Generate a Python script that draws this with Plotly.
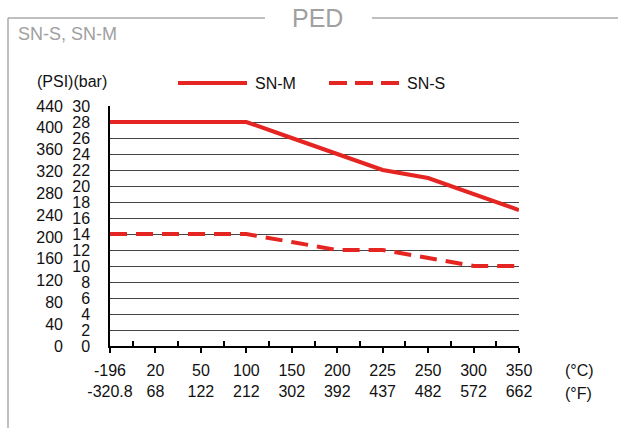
import plotly.graph_objects as go

# ---- data ----
temps_c = ["-196", "20", "50", "100", "150", "200", "225", "250", "300", "350"]
temps_f = ["-320.8", "68", "122", "212", "302", "392", "437", "482", "572", "662"]
sn_m_bar = [28, 28, 28, 28, 26, 24, 22, 21, 19, 17]
sn_s_bar = [14, 14, 14, 14, 13, 12, 12, 11, 10, 10]
bar_ticks = list(range(0, 31, 2))
psi_ticks = list(range(0, 441, 40))

RED = "#e52521"
GRAY = "#aaaaaa"
FONT = "Liberation Sans, Arial, sans-serif"
TXT = "#111111"
FS = 16

W, H = 618, 428
def px(x):
    return x / W
def py(y):
    return 1 - y / H

fig = go.Figure()
fig.add_trace(go.Scatter(x=temps_c, y=sn_m_bar, mode="lines", name="SN-M",
                         line=dict(color=RED, width=4), showlegend=False))
fig.add_trace(go.Scatter(x=temps_c, y=sn_s_bar, mode="lines", name="SN-S",
                         line=dict(color=RED, width=4, dash="17px,9px"), showlegend=False))
# helper traces to display overlay axes
fig.add_trace(go.Scatter(x=[None], y=[None], xaxis="x2", yaxis="y", showlegend=False, hoverinfo="skip"))
fig.add_trace(go.Scatter(x=[None], y=[None], xaxis="x", yaxis="y2", showlegend=False, hoverinfo="skip"))

xdom = [px(110), px(519)]
ydom = [py(346), py(106)]

fig.update_layout(
    width=W, height=H, autosize=False,
    margin=dict(l=0, r=0, t=0, b=0, pad=0),
    paper_bgcolor="white", plot_bgcolor="white",
    showlegend=False,
    font=dict(family=FONT, size=FS, color=TXT),
    xaxis=dict(
        domain=xdom, type="category", range=[0, 9], automargin=False,
        categoryorder="array", categoryarray=temps_c,
        tickvals=temps_c,
        ticktext=[f"{c}<br>{f}" for c, f in zip(temps_c, temps_f)],
        ticks="outside", ticklen=5, tickwidth=1.5, tickcolor="black",
        showline=True, linecolor="black", linewidth=2,
        showgrid=False, zeroline=False, anchor="y",
        tickfont=dict(family=FONT, size=FS, color=TXT),
        ticklabelstandoff=4,
    ),
    xaxis2=dict(
        domain=xdom, overlaying="x", anchor="y", range=[0, 9], type="linear",
        automargin=False,
        tickvals=[i + 0.5 for i in range(9)] + [9],
        ticks="inside", ticklen=5, tickwidth=1.5, tickcolor="black",
        showticklabels=False, showgrid=False, showline=False, zeroline=False,
    ),
    yaxis=dict(
        domain=ydom, range=[0, 30], tickvals=bar_ticks, automargin=False,
        showgrid=True, gridcolor="#444", gridwidth=1,
        showline=True, linecolor="black", linewidth=1.5,
        ticks="", zeroline=False, anchor="x",
        tickfont=dict(family=FONT, size=FS, color=TXT),
        ticklabelstandoff=15,
    ),
    yaxis2=dict(
        domain=ydom, overlaying="y", anchor="free", position=px(66), side="left",
        range=[0, 440], tickvals=psi_ticks, automargin=False,
        showgrid=False, showline=False, ticks="", zeroline=False,
        tickfont=dict(family=FONT, size=FS, color=TXT),
        ticklabelstandoff=3,
    ),
)

shapes = [
    # frame
    dict(type="line", xref="paper", yref="paper", x0=px(8), x1=px(8), y0=py(18), y1=py(428),
         line=dict(color=GRAY, width=1.5)),
    dict(type="line", xref="paper", yref="paper", x0=px(8), x1=px(265), y0=py(18), y1=py(18),
         line=dict(color=GRAY, width=1.5)),
    dict(type="line", xref="paper", yref="paper", x0=px(372), x1=px(618), y0=py(18), y1=py(18),
         line=dict(color=GRAY, width=1.5)),
    # legend symbols
    dict(type="line", xref="paper", yref="paper", x0=px(178), x1=px(247), y0=py(83), y1=py(83),
         line=dict(color=RED, width=4)),
    dict(type="line", xref="paper", yref="paper", x0=px(329), x1=px(399), y0=py(83), y1=py(83),
         line=dict(color=RED, width=4, dash="18px,8px")),
]
fig.update_layout(shapes=shapes)

ann = [
    dict(text="PED", x=px(317), y=py(18), xanchor="center", yanchor="middle",
         font=dict(family=FONT, size=25, color="#a0a0a0")),
    dict(text="SN-S, SN-M", x=px(16), y=py(34), xanchor="left", yanchor="middle",
         font=dict(family=FONT, size=18, color="#a0a0a0")),
    dict(text="(PSI)(bar)", x=px(35), y=py(82), xanchor="left", yanchor="middle",
         font=dict(family=FONT, size=FS, color=TXT)),
    dict(text="SN-M", x=px(253), y=py(83), xanchor="left", yanchor="middle",
         font=dict(family=FONT, size=FS, color=TXT)),
    dict(text="SN-S", x=px(405), y=py(83), xanchor="left", yanchor="middle",
         font=dict(family=FONT, size=FS, color=TXT)),
    dict(text="(°C)", x=px(563), y=py(370), xanchor="left", yanchor="middle",
         font=dict(family=FONT, size=FS, color=TXT)),
    dict(text="(°F)", x=px(563), y=py(393), xanchor="left", yanchor="middle",
         font=dict(family=FONT, size=FS, color=TXT)),
]
for a in ann:
    a.update(xref="paper", yref="paper", showarrow=False)
fig.update_layout(annotations=ann)

fig.write_html("out.html", config={"displayModeBar": False},
               post_script="document.body.style.margin='0px';")
